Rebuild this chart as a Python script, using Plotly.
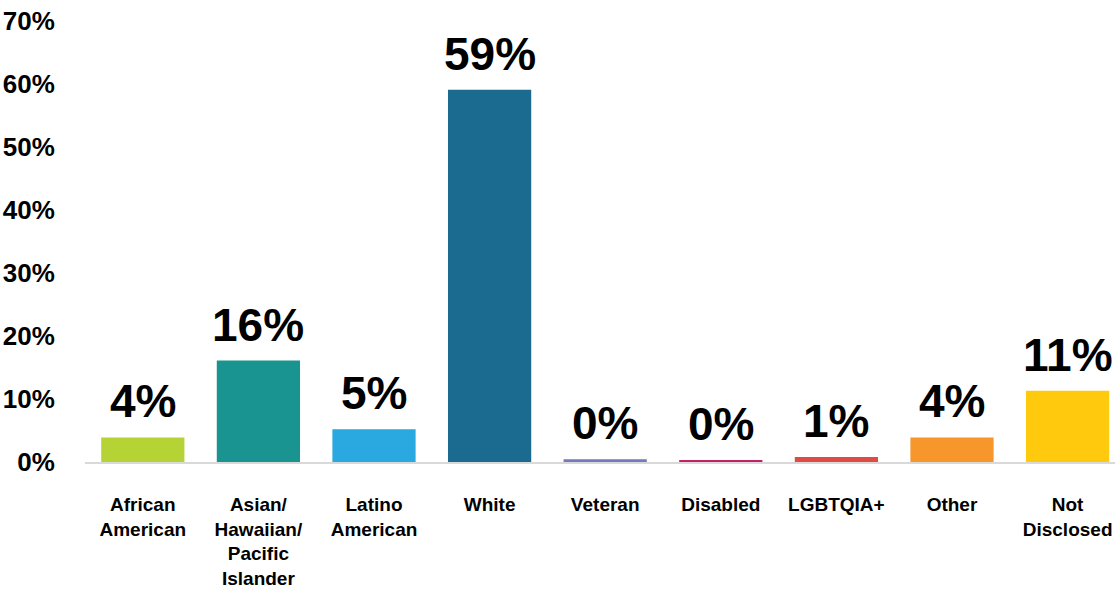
import plotly.graph_objects as go

# Share of respondents by group (percent)
categories = [
    "African<br>American",
    "Asian/<br>Hawaiian/<br>Pacific<br>Islander",
    "Latino<br>American",
    "White",
    "Veteran",
    "Disabled",
    "LGBTQIA+",
    "Other",
    "Not<br>Disclosed",
]
values = [3.9, 16.1, 5.2, 59.1, 0.45, 0.3, 0.8, 3.9, 11.3]
colors = [
    "#b5d334", "#1a9490", "#29a9e0", "#1b6a8f", "#7579bd",
    "#c2206a", "#e04b45", "#f7962a", "#ffc90e",
]
y_ticks = [0, 10, 20, 30, 40, 50, 60, 70]

FONT = "Liberation Sans, Arial, sans-serif"

fig = go.Figure(
    go.Bar(
        x=list(range(len(categories))),
        y=values,
        marker=dict(color=colors, line=dict(width=0)),
        hoverinfo="skip",
    )
)

# Value labels above each bar
for i, v in enumerate(values):
    fig.add_annotation(
        x=i, y=v, text=f"{round(v)}%",
        showarrow=False, yanchor="bottom", yshift=8,
        font=dict(family=FONT, size=46, color="#000000", weight="bold"),
    )

fig.update_layout(
    width=1115, height=589,
    margin=dict(l=85, r=0, t=21, b=122),
    paper_bgcolor="white", plot_bgcolor="white",
    bargap=0.28, showlegend=False,
    font=dict(family=FONT, weight="bold", color="#000000"),
)
fig.update_xaxes(
    tickmode="array", tickvals=list(range(len(categories))), ticktext=categories,
    range=[-0.5, 8.41],
    showline=True, linecolor="#d9d9d9", linewidth=2,
    showgrid=False, zeroline=False,
    ticks="outside", ticklen=24, tickcolor="rgba(0,0,0,0)",
    tickfont=dict(family=FONT, size=19, color="#000000", weight="bold"),
)
fig.update_yaxes(
    range=[0, 70], tickmode="array", tickvals=y_ticks,
    ticktext=[f"{t}%" for t in y_ticks],
    showgrid=False, zeroline=False, showline=False,
    ticks="outside", ticklen=24, tickcolor="rgba(0,0,0,0)",
    tickfont=dict(family=FONT, size=26, color="#000000", weight="bold"),
)

fig.write_html("out.html")
